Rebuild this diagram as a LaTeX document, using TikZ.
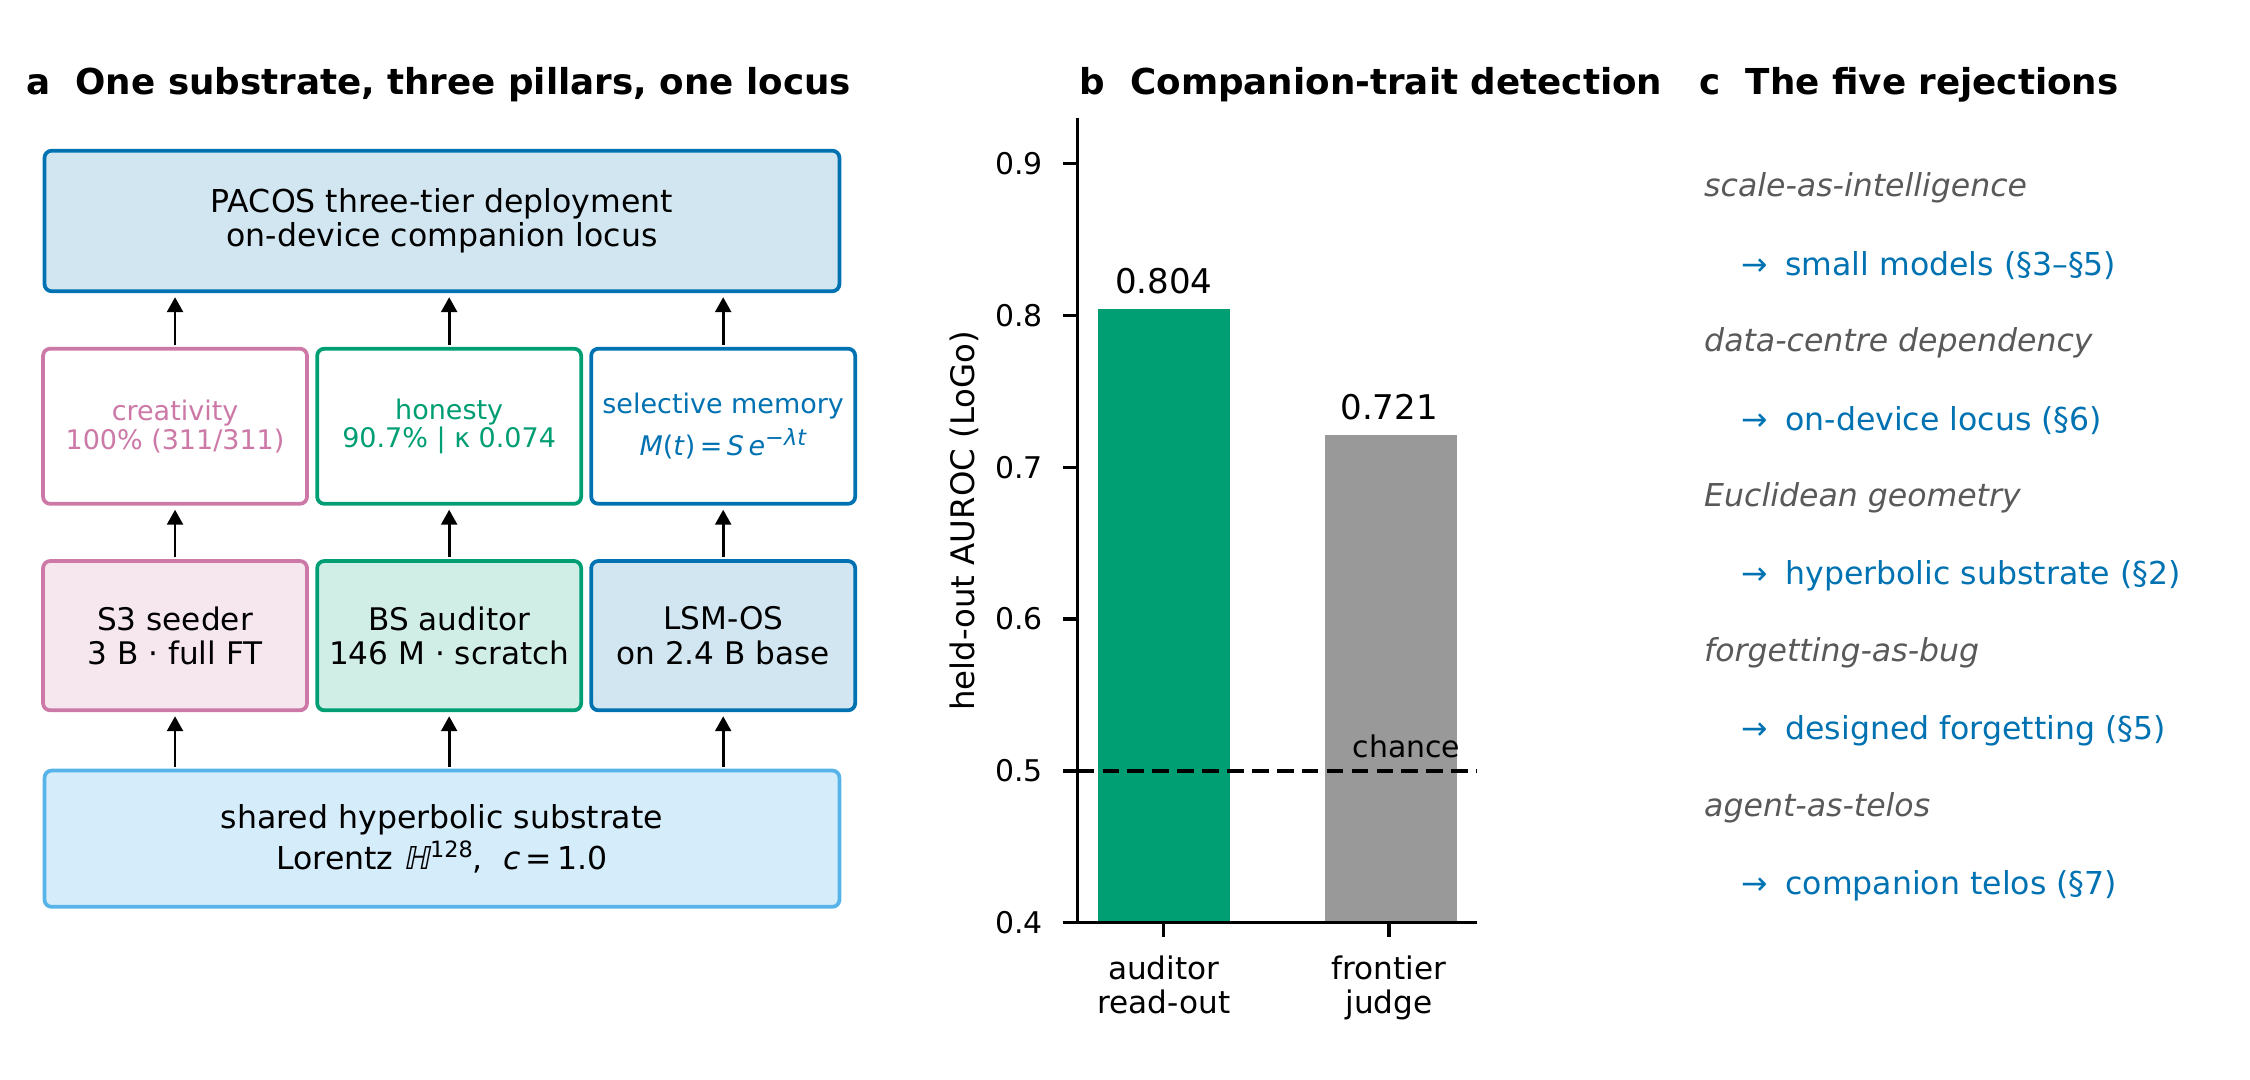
\documentclass[tikz,border=0pt]{standalone}
\usepackage{fontspec}
\setmainfont{DejaVu Sans}
\newfontfamily\slantfont[FakeSlant=0.2]{DejaVu Sans}
\usetikzlibrary{positioning,arrows.meta}
\definecolor{cpink}{HTML}{CC79A7}
\definecolor{cgreen}{HTML}{009E73}
\definecolor{cblue}{HTML}{0072B2}
\definecolor{csky}{HTML}{56B4E9}
\definecolor{cbar}{HTML}{999999}
\definecolor{cgray}{HTML}{595959}
\newcommand{\fsz}[2]{\fontsize{#1}{#2}\selectfont}
\newcommand{\upper}[1]{\raisebox{0.7ex}{\fsz{5.4}{6}#1}}
\begin{document}
\begin{tikzpicture}[>={Triangle[length=3.6pt,width=3.8pt]},line join=round,font=\fsz{7.6}{8.3},
  box/.style={draw,rounded corners=0.6mm,line width=0.9pt,align=center,inner sep=0pt,outer sep=0pt},
  wide/.style={box,minimum width=6.73cm},
  pillar/.style={box,fill=white,minimum width=2.235cm,minimum height=1.313cm,font=\fsz{6.5}{6.9},text=#1,draw=#1},
  model/.style={box,fill=#1!18,draw=#1,minimum width=2.235cm,minimum height=1.264cm,font=\fsz{7.5}{8.3}},
  up/.style={->,line width=0.7pt,shorten <=0.3mm,shorten >=0.5mm},
  ttl/.style={anchor=base west,inner sep=0pt,font=\fsz{8.6}{10}\bfseries},
  item/.style={anchor=west,inner sep=0pt,font=\fsz{7.6}{9}},
  spine/.style={line width=0.8pt}]
\useasboundingbox (0,0) rectangle (19.05,9.144);
% a: stack
\node[ttl] (ta) at (0.219,8.345) {a\ \ One substrate, three pillars, one locus};
\node[wide,draw=cblue,fill=cblue!18,minimum height=1.19cm] (locus) at (3.742,7.273) {PACOS three-tier deployment\\on-device companion locus};
\node[wide,draw=csky,fill=csky!25,minimum height=1.154cm,font=\fsz{7.6}{10}] (sub) at (3.742,2.043)
  {shared hyperbolic substrate\\Lorentz {\slantfont ℍ}\upper{128},\ \ \textit{c}\,=\,1.0};
\node[pillar=cpink] (p1) at (1.482,5.535) {creativity\\100\% (311/311)};
\node[pillar=cgreen] (p2) at (3.803,5.535) {honesty\\90.7\% | κ 0.074};
\node[pillar=cblue] (p3) at (6.123,5.535) {selective memory\\[1.2pt]\textit{M}(\textit{t})\,=\,\textit{S}\,\textit{e}\upper{−\textit{λt}}};
\node[model=cpink] (m1) at (1.482,3.762) {S3 seeder\\3 B · full FT};
\node[model=cgreen] (m2) at (3.803,3.762) {BS auditor\\146 M · scratch};
\node[model=cblue] (m3) at (6.123,3.762) {LSM-OS\\on 2.4 B base};
\foreach \i in {1,2,3}{
  \draw[up] (sub.north -| m\i) -- (m\i.south);
  \draw[up] (m\i.north) -- (p\i.south);
  \draw[up] (p\i.north) -- (locus.south -| p\i);
}
% b: bar chart
\node[ttl] (tb) at (9.136,8.345) {b\ \ Companion-trait detection};
\begin{scope}[yshift=-3.81cm,y=12.855cm]
  \fill[cgreen] (9.294,0.4) rectangle (10.412,0.804);
  \fill[cbar] (11.214,0.4) rectangle (12.332,0.721);
  \draw[line width=1pt,dash pattern=on 4pt off 2pt] (9.124,0.5) -- (12.502,0.5);
  \draw[spine] (9.124,0.93) -- (9.124,0.4) -- (12.502,0.4);
  \foreach \v in {4,...,9}
    \draw[spine] (9.124,0.\v) -- ++(-0.12cm,0) node[left=0.16cm,inner sep=0pt,font=\fsz{7.2}{8}] (y\v) {0.\v};
  \draw[spine] (9.853,0.4) -- ++(0,-0.12cm) node[below=0.15cm,inner sep=0pt,align=center,font=\fsz{7.5}{8}] (xa) {auditor\\read-out};
  \draw[spine] (11.761,0.4) -- ++(0,-0.12cm) node[below=0.15cm,inner sep=0pt,align=center,font=\fsz{7.5}{8}] (xb) {frontier\\judge};
  \node[anchor=base,font=\fsz{8.2}{9.6}] (va) at (9.853,0.8146) {0.804};
  \node[anchor=base,font=\fsz{8.2}{9.6}] (vb) at (11.761,0.7316) {0.721};
  \node[anchor=base east,inner sep=0pt,font=\fsz{7.2}{8}] (chance) at (12.37,0.509) {chance};
  \node[rotate=90,font=\fsz{7.8}{9}] (ylab) at (8.164,0.6646) {held-out AUROC (LoGo)};
\end{scope}
% c: list
\node[ttl] (tc) at (14.385,8.345) {c\ \ The five rejections};
\foreach \old/\new [count=\i from 0] in {scale-as-intelligence/small models (§3–§5),
    data-centre dependency/on-device locus (§6), Euclidean geometry/hyperbolic substrate (§2),
    forgetting-as-bug/designed forgetting (§5), agent-as-telos/companion telos (§7)}{
  \node[item,text=cgray,font=\fsz{7.6}{9}\itshape] (r\i) at (14.422,7.552-1.312*\i) {\old};
  \node[item,text=cblue] (s\i) at (14.738,6.896-1.312*\i) {→\hspace{4.2pt}\new};
}
\end{tikzpicture}
\end{document}
